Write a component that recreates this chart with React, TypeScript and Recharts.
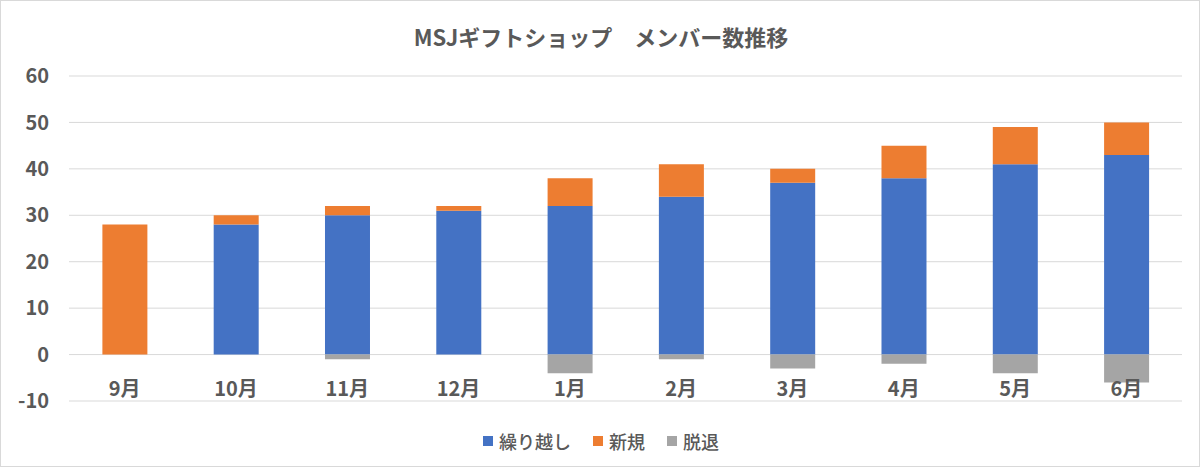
import React from 'react';
import { BarChart, Bar, XAxis, YAxis, CartesianGrid } from 'recharts';

// months (Sep -> Jun)
const months = ['9月', '10月', '11月', '12月', '1月', '2月', '3月', '4月', '5月', '6月'];
// carried-over members
const carried = [0, 28, 30, 31, 32, 34, 37, 38, 41, 43];
// new members
const newcomers = [28, 2, 2, 1, 6, 7, 3, 7, 8, 7];
// members who left (negative)
const left = [0, 0, -1, 0, -4, -1, -3, -2, -4, -6];
const yTicks = [-10, 0, 10, 20, 30, 40, 50, 60];

const data = months.map((m, i) => ({
  month: m,
  carried: carried[i],
  newcomers: newcomers[i],
  left: left[i],
}));

const TEXT = '#595959';
const FONT = '"Noto Sans CJK JP", "Noto Sans", sans-serif';
const BLUE = '#4472C4';
const ORANGE = '#ED7D31';
const GRAY = '#A5A5A5';

const legendItems = [
  { name: '繰り越し', color: BLUE },
  { name: '新規', color: ORANGE },
  { name: '脱退', color: GRAY },
];

const MARGIN = { top: 76, right: 18, bottom: 36, left: 0 };

function MonthTick(props: any) {
  const { x, y, payload } = props;
  return (
    <text
      x={x}
      y={y - 14}
      textAnchor="middle"
      dominantBaseline="central"
      fill={TEXT}
      fontSize={20}
      fontWeight="bold"
      fontFamily={FONT}
    >
      {payload.value}
    </text>
  );
}

const yAxisProps = {
  width: 69,
  domain: [-10, 60] as [number, number],
  ticks: yTicks,
  interval: 0 as const,
  axisLine: false,
  tickLine: false,
  tickSize: 0,
  tickMargin: 20,
};

export default function App() {
  return (
    <div
      style={{
        position: 'absolute',
        left: 0,
        top: 0,
        width: 1200,
        height: 467,
        background: '#fff',
        border: '1px solid #d9d9d9',
        boxSizing: 'border-box',
        fontFamily: FONT,
      }}
    >
      <div
        style={{
          position: 'absolute',
          left: 0,
          top: 20,
          width: 1200,
          textAlign: 'center',
          fontSize: 22,
          lineHeight: '30px',
          fontWeight: 'bold',
          color: TEXT,
        }}
      >
        MSJギフトショップ　メンバー数推移
      </div>
      {/* bars, grid and value axis */}
      <div style={{ position: 'absolute', left: -1, top: -1 }}>
        <BarChart
          width={1200}
          height={467}
          data={data}
          stackOffset="sign"
          barCategoryGap="30%"
          margin={MARGIN}
        >
          <CartesianGrid vertical={false} stroke="#d9d9d9" strokeWidth={1} />
          <XAxis dataKey="month" height={30} tick={false} axisLine={false} tickLine={false} />
          <YAxis
            {...yAxisProps}
            tick={{ fill: TEXT, fontSize: 20, fontWeight: 'bold', fontFamily: FONT }}
          />
          <Bar dataKey="carried" stackId="a" fill={BLUE} isAnimationActive={false} />
          <Bar dataKey="newcomers" stackId="a" fill={ORANGE} isAnimationActive={false} />
          <Bar dataKey="left" stackId="a" fill={GRAY} isAnimationActive={false} />
        </BarChart>
      </div>
      {/* month labels drawn on top of the bars */}
      <div style={{ position: 'absolute', left: -1, top: -1 }}>
        <BarChart width={1200} height={467} data={data} margin={MARGIN}>
          <XAxis
            dataKey="month"
            axisLine={false}
            tickLine={false}
            tickSize={0}
            tickMargin={0}
            height={30}
            interval={0}
            tick={<MonthTick />}
          />
          <YAxis {...yAxisProps} tick={false} />
        </BarChart>
      </div>
      <div
        style={{
          position: 'absolute',
          left: 0,
          top: 427,
          width: 1200,
          display: 'flex',
          justifyContent: 'center',
          alignItems: 'center',
          gap: 22,
          height: 26,
        }}
      >
        {legendItems.map((it) => (
          <div key={it.name} style={{ display: 'flex', alignItems: 'center' }}>
            <span
              style={{
                display: 'inline-block',
                width: 10,
                height: 10,
                background: it.color,
                marginRight: 6,
              }}
            />
            <span style={{ fontSize: 18, color: TEXT, fontWeight: 500 }}>{it.name}</span>
          </div>
        ))}
      </div>
    </div>
  );
}
